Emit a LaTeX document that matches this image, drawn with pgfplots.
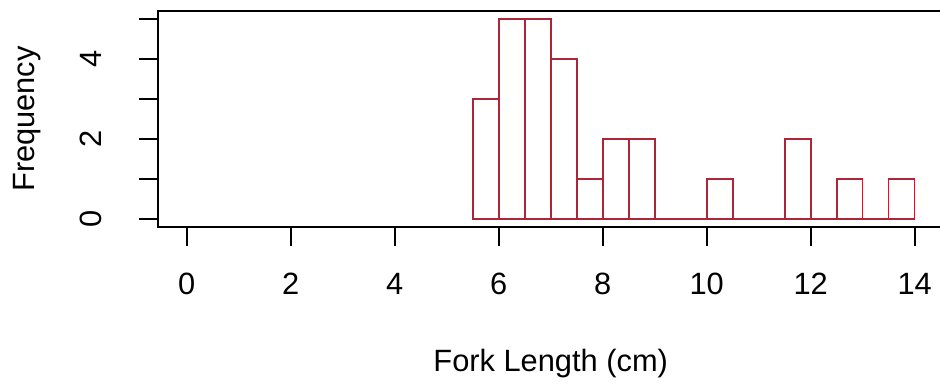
\documentclass[border=0pt]{standalone}
\usepackage{pgfplots}
\usepackage{pgfplotstable}
\pgfplotsset{compat=1.18}
\usepackage{fontspec}
\setmainfont{Liberation Sans}

\definecolor{histred}{RGB}{172,38,56}

% Histogram counts: left bin edge (bin width 0.5 cm) and frequency.
% The final row only closes the last interval.
\pgfplotstableread{
edge count
5.5  3
6.0  5
6.5  5
7.0  4
7.5  1
8.0  2
8.5  2
9.0  0
9.5  0
10.0 1
10.5 0
11.0 0
11.5 2
12.0 0
12.5 1
13.0 0
13.5 1
14.0 1
}\forklength

\begin{document}
\begin{tikzpicture}
\begin{axis}[
    at={(0,0)}, anchor=south west,
    scale only axis,
    width=393.1pt, height=108pt,
    xmin=-0.56, xmax=14.56,
    ymin=-0.2, ymax=5.2,
    axis line style={line width=1pt, black},
    tick style={line width=1pt, black},
    tick align=outside,
    major tick length=9.3pt,
    tick pos=left,
    xtick={0,2,...,14},
    ytick={0,1,2,3,4,5},
    yticklabels={0,,2,,4,},
    /pgf/number format/assume math mode=true,
    tick label style={font=\fontsize{15.4}{18}\selectfont},
    xticklabel style={anchor=center, inner sep=0pt, yshift=-19pt},
    yticklabel style={xshift=-24pt, rotate=90, anchor=center, inner sep=0pt},
    xlabel={Fork Length (cm)},
    ylabel={Frequency},
    label style={font=\fontsize{15.4}{18}\selectfont},
    xlabel style={at={(axis description cs:0.5,-0.6694)}, anchor=base, inner sep=0pt},
    ylabel style={at={(axis description cs:-0.1572,0.5)}, anchor=base, inner sep=0pt},
]
\addplot[ybar interval, draw=histred, fill=none, line width=0.8pt]
    table[x=edge, y=count] {\forklength};
\end{axis}
\pgfresetboundingbox
\useasboundingbox (-78.8pt,-79pt) rectangle (391.2pt,113.5pt);
\end{tikzpicture}
\end{document}
